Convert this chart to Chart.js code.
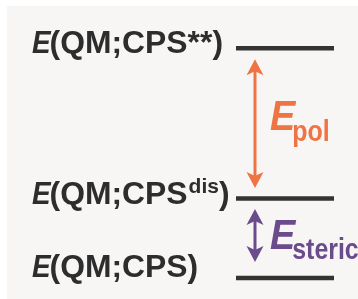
<!DOCTYPE html>
<html>
<head>
<meta charset="utf-8">
<script src="https://cdn.jsdelivr.net/npm/chart.js@4.4.1/dist/chart.umd.min.js"></script>
<style>
  html, body { margin: 0; padding: 0; background: #fff; }
  #wrap { width: 358px; height: 299px; }
</style>
</head>
<body>
<div id="wrap"><canvas id="levels" width="358" height="299"></canvas></div>
<script>
// energy levels (arbitrary units: top, middle, bottom)
const levelSuffix = ['**', 'dis', ''];          // CPS**, CPS^dis, CPS
const levelSuper = [false, true, false];
const levelEnergies = [2.89, 1.0, 0.0];
// gaps between consecutive levels
const gapNames = ['pol', 'steric'];
const gapColors = ['#ef7343', '#6a4b8c'];

const FONT = '"Liberation Sans", Arial, sans-serif';

function drawScaled(ctx, str, x, y, font, color, sx) {
  ctx.save();
  ctx.font = font;
  ctx.fillStyle = color;
  ctx.translate(x, y);
  ctx.scale(sx, 1);
  ctx.fillText(str, 0, 0);
  const w = ctx.measureText(str).width * sx;
  ctx.restore();
  return w;
}

function arrowHead(ctx, x, y, dir, color) {
  // dir = -1 pointing up, 1 pointing down
  const len = 16, half = 8.5, notch = 4;
  ctx.beginPath();
  ctx.moveTo(x, y);
  ctx.lineTo(x - half, y - dir * len);
  ctx.lineTo(x, y - dir * (len - notch));
  ctx.lineTo(x + half, y - dir * len);
  ctx.closePath();
  ctx.fillStyle = color;
  ctx.fill();
}

const backdrop = {
  id: 'backdrop',
  beforeDraw(chart) {
    const ctx = chart.ctx;
    ctx.save();
    ctx.fillStyle = '#ffffff';
    ctx.fillRect(0, 0, chart.width, chart.height);
    ctx.fillStyle = '#f7f6f4';
    ctx.fillRect(7, 6, chart.width - 7, chart.height - 6);
    ctx.restore();
  }
};

const annotations = {
  id: 'annotations',
  afterDatasetsDraw(chart) {
    const ctx = chart.ctx;
    const xs = chart.scales.x, ys = chart.scales.y;
    ctx.save();
    ctx.textBaseline = 'alphabetic';

    // level labels
    const baseOff = [5, 5, -1];
    const mainFont = 'bold 31px ' + FONT;
    const eFont = 'italic bold 31px ' + FONT;
    ctx.font = mainFont;
    const sx = 138 / ctx.measureText('(QM;CPS').width;
    const ink = '#2d2d2d';
    levelEnergies.forEach((e, i) => {
      const by = ys.getPixelForValue(e) + baseOff[i];
      let x = 32;
      x += drawScaled(ctx, 'E', x, by, eFont, ink, 0.9) - 1;
      x += drawScaled(ctx, '(QM;CPS', x, by, mainFont, ink, sx);
      if (levelSuper[i]) {
        x += 1;
        x += drawScaled(ctx, levelSuffix[i], x, by - 11, 'bold 21px ' + FONT, ink, 1.0);
      } else if (levelSuffix[i]) {
        x += drawScaled(ctx, levelSuffix[i], x, by, mainFont, ink, sx);
      }
      drawScaled(ctx, ')', x, by, mainFont, ink, sx);
    });

    // gap arrows + labels
    const ax = xs.getPixelForValue(255);
    const gapTop = [11, 10.5];
    const gapBot = [10.5, 16];
    const eBase = [130, 249];
    const subBase = [141, 259];
    gapNames.forEach((name, i) => {
      const col = gapColors[i];
      const y1 = ys.getPixelForValue(levelEnergies[i]) + gapTop[i];
      const y2 = ys.getPixelForValue(levelEnergies[i + 1]) - gapBot[i];
      ctx.strokeStyle = col;
      ctx.lineWidth = 3;
      ctx.beginPath();
      ctx.moveTo(ax, y1 + 10);
      ctx.lineTo(ax, y2 - 10);
      ctx.stroke();
      arrowHead(ctx, ax, y1, -1, col);
      arrowHead(ctx, ax, y2, 1, col);
      let x = ax + 15;
      x += drawScaled(ctx, 'E', x, eBase[i], 'italic bold 43px ' + FONT, col, 0.88) - 3;
      drawScaled(ctx, name, x, subBase[i], 'bold 30px ' + FONT, col, 0.83);
    });
    ctx.restore();
  }
};

new Chart(document.getElementById('levels').getContext('2d'), {
  type: 'line',
  data: {
    datasets: levelEnergies.map(e => ({
      data: [{ x: 236, y: e }, { x: 334, y: e }],
      borderColor: '#333333',
      borderWidth: 4.5,
      pointRadius: 0,
      borderCapStyle: 'butt'
    }))
  },
  options: {
    responsive: false,
    animation: false,
    layout: { padding: 0 },
    plugins: { legend: { display: false }, tooltip: { enabled: false } },
    scales: {
      x: { type: 'linear', min: 0, max: 358, display: false },
      y: { type: 'linear', min: -0.264, max: 3.497, display: false }
    }
  },
  plugins: [backdrop, annotations]
});
</script>
</body>
</html>
